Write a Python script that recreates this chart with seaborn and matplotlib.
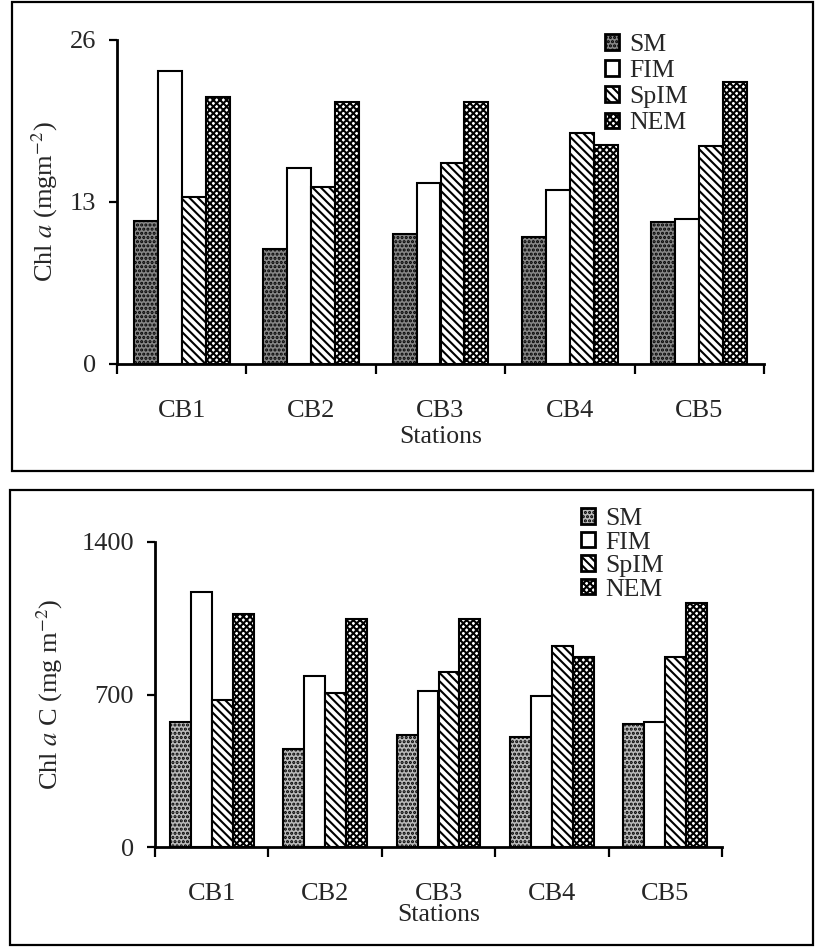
import numpy as np
import pandas as pd
import seaborn as sns
import matplotlib
matplotlib.use("Agg")
import matplotlib.pyplot as plt
from matplotlib.patches import Patch, Rectangle

# Chlorophyll a standing stock per station and season
stations = ["CB1", "CB2", "CB3", "CB4", "CB5"]
seasons = ["SM", "FIM", "SpIM", "NEM"]

chl_a = {
    "SM":   [11.5, 9.2, 10.4, 10.2, 11.4],
    "FIM":  [23.5, 15.7, 14.5, 14.0, 11.6],
    "SpIM": [13.4, 14.2, 16.1, 18.5, 17.5],
    "NEM":  [21.4, 21.0, 21.0, 17.6, 22.6],
}
# Chlorophyll a derived carbon
chl_c = {
    "SM":   [572, 451, 514, 506, 564],
    "FIM":  [1172, 785, 718, 695, 572],
    "SpIM": [675, 709, 805, 923, 870],
    "NEM":  [1069, 1046, 1046, 874, 1120],
}

top_yticks = [0, 13, 26]
bottom_yticks = [0, 700, 1400]


def long_table(values):
    rows = []
    for s in seasons:
        for st, v in zip(stations, values[s]):
            rows.append({"Station": st, "Season": s, "Value": v})
    return pd.DataFrame(rows)


sns.set_style("white")
plt.rcParams["font.family"] = ["Liberation Serif", "DejaVu Serif"]
plt.rcParams["mathtext.fontset"] = "stix"
plt.rcParams["hatch.linewidth"] = 1.5

fig = plt.figure(figsize=(8.15, 9.47), dpi=100)
W, H = 815, 947


def axes_px(left, top, right, bottom):
    return fig.add_axes([left / W, 1 - bottom / H, (right - left) / W, (bottom - top) / H])


ax1 = axes_px(117, 40, 764, 364)
ax2 = axes_px(155, 542, 722, 847)


def style_for(season, sm_face):
    if season == "SM":
        return dict(facecolor=sm_face, hatch="....")
    if season == "FIM":
        return dict(facecolor="white", hatch=None)
    if season == "SpIM":
        return dict(facecolor="white", hatch="\\\\\\\\")
    return dict(facecolor="white", hatch="xxxxx")


def draw(ax, values, yticks, ylabel, sm_face, ylab_x, xlab_y, leg_xy, leg_space):
    df = long_table(values)
    sns.barplot(data=df, x="Station", y="Value", hue="Season", order=stations,
                hue_order=seasons, width=0.74, edgecolor="black", linewidth=1.5,
                errorbar=None, legend=False, ax=ax, saturation=1)
    for cont, season in zip(ax.containers, seasons):
        st = style_for(season, sm_face)
        for bar in cont:
            bar.set_facecolor(st["facecolor"])
            bar.set_edgecolor("black")
            if st["hatch"]:
                bar.set_hatch(st["hatch"])

    ax.set_xlim(-0.5, len(stations) - 0.5)
    ax.set_ylim(yticks[0], yticks[-1])
    ax.set_yticks(yticks)
    ax.set_yticklabels([str(t) for t in yticks])
    ax.set_xticks(range(len(stations)))
    ax.set_xticklabels(stations)
    ax.set_xticks(np.arange(-0.5, len(stations)), minor=True)
    ax.tick_params(axis="x", which="major", length=0, pad=26, labelsize=19)
    ax.tick_params(axis="x", which="minor", length=7, width=1.6, direction="out",
                   bottom=True, color="black")
    ax.tick_params(axis="y", length=6, width=1.6, direction="out", left=True,
                   pad=9, labelsize=19, color="black")

    for side in ("top", "right"):
        ax.spines[side].set_visible(False)
    for side in ("left", "bottom"):
        ax.spines[side].set_color("black")
        ax.spines[side].set_linewidth(2.0)

    ax.set_xlabel("Stations", fontsize=18.5)
    ax.xaxis.label.set_va("center")
    ax.xaxis.set_label_coords(0.5, xlab_y)
    ax.set_ylabel(ylabel, fontsize=19)
    ax.yaxis.label.set_va("center")
    ax.yaxis.set_label_coords(ylab_x, 0.5)

    handles = []
    for s in seasons:
        st = style_for(s, sm_face)
        handles.append(Patch(facecolor=st["facecolor"], edgecolor="black",
                             hatch=st["hatch"], linewidth=2.0, label=s))
    ax.legend(handles=handles, loc="upper left",
              bbox_to_anchor=(leg_xy[0] / W, 1 - leg_xy[1] / H),
              bbox_transform=fig.transFigure, frameon=False, fontsize=18.5,
              handlelength=0.55, handleheight=0.55, handletextpad=0.4,
              labelspacing=leg_space, borderpad=0, borderaxespad=0)


draw(ax1, chl_a, top_yticks, r"Chl $a$ (mgm$^{-2}$)", "#878787",
     (45 - 117) / 647, -(437 - 364) / 324, (605, 34), 0.16)
draw(ax2, chl_c, bottom_yticks, r"Chl $a$ C (mg m$^{-2}$)", "#bababa",
     (50 - 155) / 567, -(915 - 847) / 305, (581, 508), 0.06)

# Panel frames
for (l, t, r, b) in [(12, 2, 813, 471), (10, 490, 813, 945)]:
    fig.add_artist(Rectangle((l / W, 1 - b / H), (r - l) / W, (b - t) / H,
                             transform=fig.transFigure, fill=False,
                             edgecolor="black", linewidth=1.6))

fig.savefig("out.png", dpi=100)
